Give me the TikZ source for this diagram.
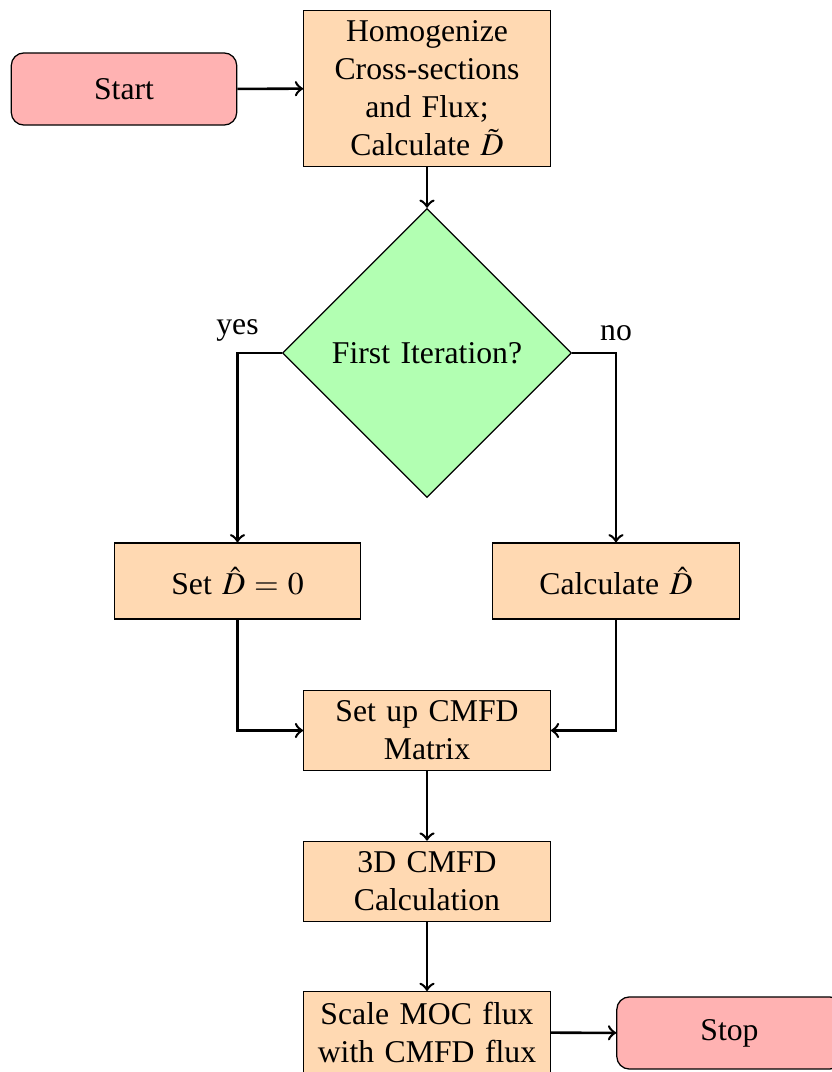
\documentclass[tikz,border=0pt]{standalone}
\usepackage{mathptmx}
\usepackage{fontspec}
\setmainfont{Liberation Serif}
\usetikzlibrary{shapes.geometric}

\tikzset{
  startstop/.style={rectangle, rounded corners=4pt, minimum width=2.5cm, minimum height=0.8cm,
    align=center, draw=black, fill=red!30},
  process/.style={rectangle, text width=2.5cm, align=center, draw=black, fill=orange!30},
  decision/.style={diamond, aspect=1, text width=2.5cm, align=center, draw=black, fill=green!30},
  flow/.style={thick, ->},
}

\begin{document}
\begin{tikzpicture}[x=0.3155pt, y=-0.3155pt]
  \useasboundingbox (0,0) rectangle (832,1072);

  % nodes (positions in pixel units, y grows downward)
  \node[startstop] (start) at (124,89) {Start};
  \node[process] (homog) at (427,88.5)
    {Homogenize\\ Cross-sections\\ and Flux;\\ Calculate $\tilde{D}$};
  \node[decision] (dec) at (427,353) {First Iteration?};
  \node[process, minimum height=24pt] (setzero) at (237.5,581) {Set $\hat{D} = 0$};
  \node[process, minimum height=24pt] (calcd) at (616,581) {Calculate $\hat{D}$};
  \node[process] (setup) at (427,730.5) {Set up CMFD\\ Matrix};
  \node[process] (cmfd) at (427,881.5) {3D CMFD\\ Calculation};
  \node[process] (scale) at (427,1032.5) {Scale MOC flux\\ with CMFD flux};
  \node[startstop] (stop) at (729.5,1033) {Stop};

  % connectors
  \draw[flow] (start) -- (homog);
  \draw[flow] (homog) -- (dec);
  \draw[flow] (dec.west) -| node[pos=0.5, above] {yes} (setzero.north);
  \draw[flow] (dec.east) -| node[pos=0.5, above] {no} (calcd.north);
  \draw[flow] (setzero.south) |- (setup.west);
  \draw[flow] (calcd.south) |- (setup.east);
  \draw[flow] (setup) -- (cmfd);
  \draw[flow] (cmfd) -- (scale);
  \draw[flow] (scale) -- (stop);
\end{tikzpicture}
\end{document}
